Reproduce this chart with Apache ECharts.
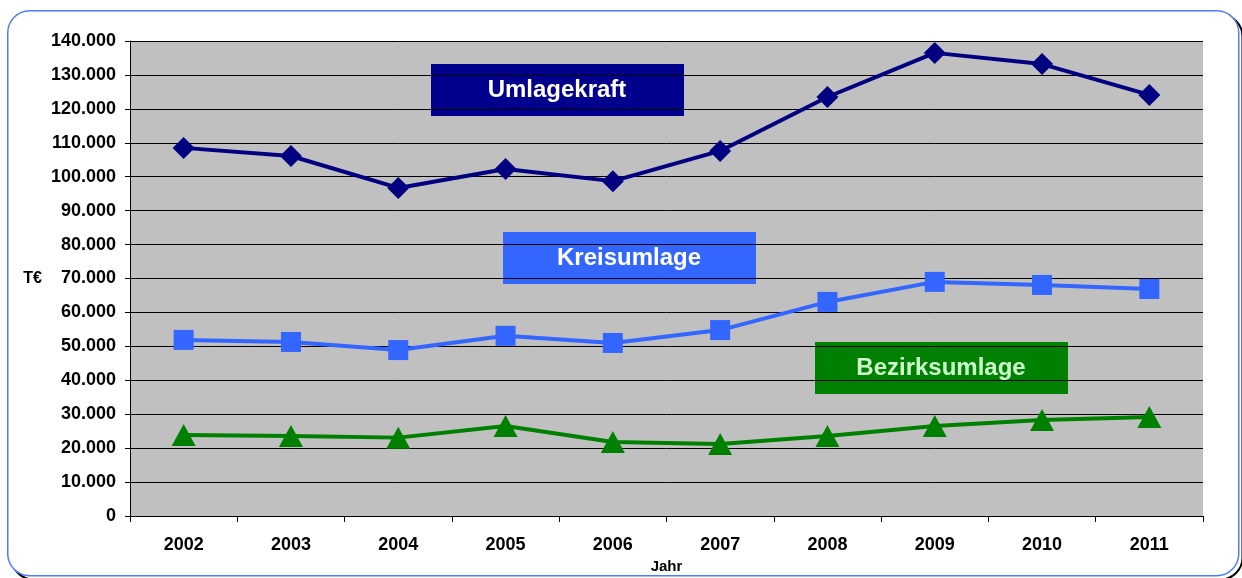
<!DOCTYPE html>
<html>
<head>
<meta charset="utf-8">
<script src="https://cdn.jsdelivr.net/npm/echarts@6/dist/echarts.min.js"></script>
<style>
  html, body { margin: 0; padding: 0; background: #fff; }
  #chart { width: 1242px; height: 578px; }
</style>
</head>
<body>
<div id="chart"></div>
<script>
// Jahre
const years = ['2002', '2003', '2004', '2005', '2006', '2007', '2008', '2009', '2010', '2011'];
// Werte in T€
const umlagekraft = [108500, 106100, 96700, 102300, 98700, 107600, 123500, 136500, 133200, 124100];
const kreisumlage = [51900, 51300, 48900, 53100, 51000, 54800, 63100, 69000, 68100, 66900];
const bezirksumlage = [23900, 23600, 23100, 26500, 21800, 21200, 23600, 26500, 28300, 29200];

const fmt = v => String(v).replace(/\B(?=(\d{3})+(?!\d))/g, '.');
const font = '"Liberation Sans", Arial, sans-serif';

const chart = echarts.init(document.getElementById('chart'));

// Beschriftungskästen
function labelBox(x, y, text, bg, color) {
  return {
    type: 'group', left: x, top: y, z: 100,
    children: [
      { type: 'rect', shape: { x: 0, y: 0, width: 253, height: 52 }, style: { fill: bg } },
      { type: 'text', x: 126, y: 26, style: {
          text: text, fill: color, font: 'bold 24px ' + font,
          textAlign: 'center', textVerticalAlign: 'middle' } }
    ]
  };
}

const option = {
  backgroundColor: '#fff',
  animation: false,
  grid: { left: 130, right: 39, top: 41, bottom: 62, outerBoundsMode: 'none',
    show: true, backgroundColor: '#c0c0c0', borderWidth: 0 },
  xAxis: {
    type: 'category',
    data: years,
    boundaryGap: true,
    name: 'Jahr',
    nameLocation: 'middle',
    nameGap: 40,
    nameTextStyle: { color: '#000', fontWeight: 'bold', fontSize: 15, fontFamily: font },
    axisLine: { lineStyle: { color: '#000', width: 1 } },
    axisTick: { show: true, length: 6, lineStyle: { color: '#000' } },
    axisLabel: { color: '#000', fontWeight: 'bold', fontSize: 18, fontFamily: font, margin: 20 },
    splitLine: { show: false }
  },
  yAxis: {
    type: 'value',
    min: 0, max: 140000, interval: 10000,
    name: 'T€',
    nameLocation: 'middle',
    nameRotate: 0,
    nameGap: 88,
    nameTextStyle: { color: '#000', fontWeight: 'bold', fontSize: 16, fontFamily: font },
    axisLine: { show: true, lineStyle: { color: '#000', width: 1 } },
    axisTick: { show: true, length: 5, lineStyle: { color: '#000' } },
    axisLabel: { color: '#000', fontWeight: 'bold', fontSize: 18, fontFamily: font, margin: 14, formatter: fmt },
    splitLine: { show: true, lineStyle: { color: '#000', width: 1 } }
  },
  series: [
    {
      name: 'Umlagekraft', type: 'line', data: umlagekraft,
      symbol: 'diamond', symbolSize: 22,
      lineStyle: { color: '#000080', width: 4 },
      itemStyle: { color: '#000080' }
    },
    {
      name: 'Kreisumlage', type: 'line', data: kreisumlage,
      symbol: 'rect', symbolSize: 20,
      lineStyle: { color: '#3366ff', width: 4 },
      itemStyle: { color: '#3366ff' }
    },
    {
      name: 'Bezirksumlage', type: 'line', data: bezirksumlage,
      symbol: 'triangle', symbolSize: [24, 22],
      lineStyle: { color: '#008000', width: 4 },
      itemStyle: { color: '#008000' }
    }
  ],
  graphic: [
    { type: 'rect', left: 9, top: 12, z: -10, silent: true,
      shape: { width: 1231, height: 565, r: 22 },
      style: { fill: 'none', stroke: '#000', lineWidth: 2 } },
    { type: 'rect', left: 7, top: 10, z: -9, silent: true,
      shape: { width: 1231, height: 565, r: 22 },
      style: { fill: '#fff', stroke: '#4d7dff', lineWidth: 1.5 } },
    labelBox(431, 64, 'Umlagekraft', '#00008c', '#ffffff'),
    labelBox(503, 232, 'Kreisumlage', '#3366ff', '#ffffff'),
    labelBox(815, 342, 'Bezirksumlage', '#008000', '#ccffcc')
  ]
};

chart.setOption(option);
</script>
</body>
</html>
